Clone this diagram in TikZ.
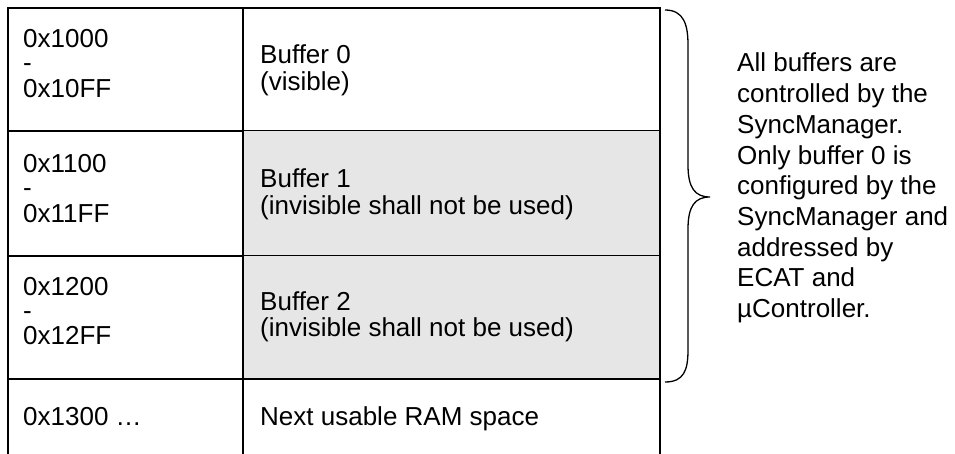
\documentclass[tikz,border=0pt]{standalone}
\usepackage{fontspec}
\setmainfont{Liberation Sans}
\definecolor{greyfill}{RGB}{230,230,230}
\begin{document}
\begin{tikzpicture}[x=1pt,y=-1pt,
  cell/.style={anchor=base west, inner sep=0pt, font=\fontsize{26}{24}\selectfont},
  note/.style={anchor=base west, inner sep=0pt, font=\fontsize{26}{30.7}\selectfont},
  heavy/.style={line width=2pt},
  light/.style={line width=1pt},
  bracestyle/.style={line width=1.3pt}]
\useasboundingbox (0,0) rectangle (955,454);
% grey cells
\fill[greyfill] (243,131) rectangle (660,379);
% row lines
\draw[heavy] (8,131) -- (243,131);
\draw[light] (243,131) -- (660,131);
\draw[heavy] (8,256) -- (243,256);
\draw[light] (243,256) -- (660,256);
\draw[heavy] (8,379) -- (660,379);
% frame
\draw[heavy] (8,454) -- (8,8) -- (660,8) -- (660,454);
\draw[heavy] (243,8) -- (243,454);
% texts
\node[cell] (a0) at (23,48) {\begin{tabular}[t]{@{}l@{}}0x1000\\-\\0x10FF\end{tabular}};
\node[cell] (b0) at (260,64) {\begin{tabular}[t]{@{}l@{}}Buffer 0\\(visible)\end{tabular}};
\node[cell] (a1) at (23,173) {\begin{tabular}[t]{@{}l@{}}0x1100\\-\\0x11FF\end{tabular}};
\node[cell] (b1) at (260,188) {\begin{tabular}[t]{@{}l@{}}Buffer 1\\(invisible shall not be used)\end{tabular}};
\node[cell] (a2) at (23,295) {\begin{tabular}[t]{@{}l@{}}0x1200\\-\\0x12FF\end{tabular}};
\node[cell] (b2) at (260,310) {\begin{tabular}[t]{@{}l@{}}Buffer 2\\(invisible shall not be used)\end{tabular}};
\node[cell] (a3) at (23,425) {0x1300 …};
\node[cell] (b3) at (260,425) {Next usable RAM space};
% brace
\coordinate (bt) at (665,10);
\coordinate (tip) at (710,197);
\coordinate (bb) at (665,382);
\draw[bracestyle] (bt) .. controls (684,10) and (688,25) .. (688,45) -- (688,165)
  .. controls (688,188) and (695,197) .. (tip)
  .. controls (695,197) and (688,206) .. (688,229) -- (688,350)
  .. controls (688,370) and (684,382) .. (bb);
% note
\node[note] (txt) at (737,72) {\begin{tabular}[t]{@{}l@{}}All buffers are\\controlled by the\\SyncManager.\\Only buffer 0 is\\configured by the\\SyncManager and\\addressed by\\ECAT and\\µController.\end{tabular}};
\end{tikzpicture}
\end{document}
